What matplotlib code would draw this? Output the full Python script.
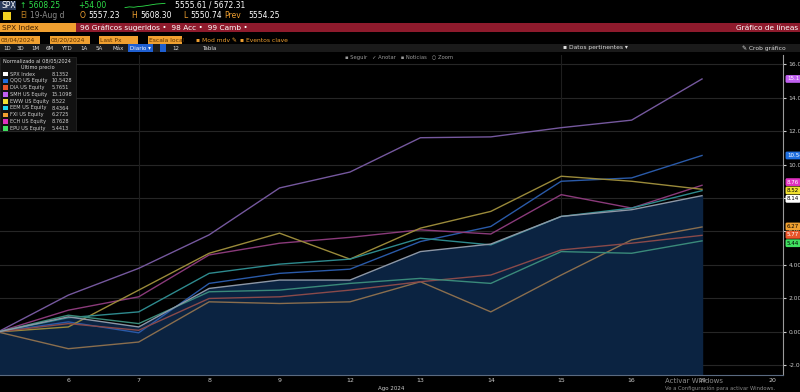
"""Bloomberg-style normalized line chart: SPX vs ETFs, Aug 2024."""

import numpy as np
import matplotlib
matplotlib.use('Agg')
import matplotlib.pyplot as plt
from matplotlib.patches import Rectangle

W, H = 800, 392

days = ['5', '6', '7', '8', '9', '12', '13', '14', '15', '16', '19']
tick_labels = ['6', '7', '8', '9', '12', '13', '14', '15', '16', '19', '20']

names = ['SPX Index', 'QQQ US Equity', 'DIA US Equity', 'SMH US Equity', 'EWW US Equity',
         'EEM US Equity', 'FXI US Equity', 'ECH US Equity', 'EPU US Equity']
last_px = ['8.1352', '10.5428', '5.7651', '15.1098', '8.522', '8.4364', '6.2725', '8.7628', '5.4413']

spx = [0, 0.9, 0.3, 2.6, 3.1, 3.1, 4.8, 5.25, 6.9, 7.3, 8.14]
qqq = [0, 0.6, -0.05, 2.9, 3.5, 3.75, 5.4, 6.3, 9.0, 9.2, 10.54]
dia = [0, 0.5, 0.1, 2.0, 2.1, 2.5, 3.0, 3.4, 4.9, 5.3, 5.77]
smh = [0, 2.2, 3.8, 5.8, 8.6, 9.55, 11.6, 11.65, 12.2, 12.65, 15.11]
eww = [0, 0.3, 2.5, 4.7, 5.9, 4.35, 6.2, 7.2, 9.3, 9.0, 8.52]
eem = [0, 0.85, 1.2, 3.5, 4.05, 4.35, 5.6, 5.2, 6.9, 7.4, 8.44]
fxi = [0, -1.0, -0.6, 1.8, 1.7, 1.8, 3.0, 1.2, 3.4, 5.5, 6.27]
ech = [0, 1.3, 2.1, 4.6, 5.3, 5.65, 6.1, 5.85, 8.2, 7.4, 8.76]
epu = [0, 1.0, 0.5, 2.4, 2.5, 2.9, 3.2, 2.9, 4.8, 4.7, 5.44]

series = [spx, qqq, dia, smh, eww, eem, fxi, ech, epu]
key_colors = ['#ffffff', '#1f6fe0', '#e8552a', '#c060f0', '#f0e030', '#20d8f0', '#f0a030', '#e030c0', '#40e060']
line_colors = ['#8d97a6', '#2a5aa8', '#8a4a4a', '#75589e', '#9a8a3a', '#2e8a8e', '#8a6e4e', '#8a3a7a', '#3a8a7a']


def fx(x):
    return x / W


def fy(y):
    return 1 - y / H


fig = plt.figure(figsize=(8, 3.92), dpi=100, facecolor='black')

# ---- plot area
ax = fig.add_axes([0, fy(375), fx(783), (375 - 55) / H])
ax.set_facecolor('black')
x = np.arange(len(days))
ax.set_xlim(0.03, 11.15)
ax.set_ylim(-2.57, 16.54)

for v in np.arange(-2, 17, 2):
    ax.axhline(v, color='#262626', lw=0.8, zorder=0)
for v in [2, 8]:
    ax.axvline(v, color='#1e1e1e', lw=0.8, zorder=0)

ax.fill_between(x, spx, -2.57, color='#0b2341', zorder=1)
order = [3, 1, 7, 4, 5, 6, 2, 8, 0]
for i in order:
    ax.plot(x, series[i], color=line_colors[i], lw=1.0, zorder=2)

ax.yaxis.tick_right()
ax.set_yticks(np.arange(-2, 17, 2))
ax.set_yticklabels([f'{v:.2f}' for v in np.arange(-2, 17, 2)])
ax.set_xticks(np.arange(1, 12))
ax.set_xticklabels(tick_labels)
ax.tick_params(axis='y', colors='#cccccc', labelsize=4.3, length=2, pad=2)
ax.tick_params(axis='x', colors='#cccccc', labelsize=4.5, length=0, pad=2)
for s in ['top', 'left']:
    ax.spines[s].set_visible(False)
ax.spines['right'].set_color('#9a9a9a')
ax.spines['bottom'].set_color('#5a6a80')
ax.text(0.5, -0.035, 'Ago 2024', transform=ax.transAxes, color='#cccccc', fontsize=4, ha='center', va='top')

# last-value boxes on the right axis
lbl_order = [3, 1, 7, 4, 0, 6, 2, 8]
lbl_y = {3: 15.11, 1: 10.54, 7: 8.95, 4: 8.45, 0: 7.95, 6: 6.3, 2: 5.8, 8: 5.3}
for i in lbl_order:
    tc = 'black' if i in (0, 4, 8, 6) else 'white'
    ax.text(1.005, (lbl_y[i] + 2.57) / (16.54 + 2.57), f'{series[i][-1]:.2f}', transform=ax.transAxes,
            fontsize=4.0, color=tc, ha='left', va='center', zorder=5, clip_on=False,
            bbox=dict(boxstyle='round,pad=0.25', fc=key_colors[i], ec='none'))

# ---- legend box
fig.patches.append(Rectangle((0, fy(131)), fx(76), (131 - 57) / H, transform=fig.transFigure,
                             fc='#121212', ec='#2a2a2a', lw=0.5))
fig.text(fx(3), fy(61), 'Normalizado al 08/05/2024', color='#dddddd', fontsize=3.6, va='center')
fig.text(fx(38), fy(67), 'Último precio', color='#dddddd', fontsize=3.6, va='center', ha='center')
for k, (n, v) in enumerate(zip(names, last_px)):
    yy = 74 + k * 6.8
    fig.patches.append(Rectangle((fx(3), fy(yy + 2.4)), fx(4.5), 4.6 / H, transform=fig.transFigure,
                                 fc=key_colors[k], ec='none'))
    fig.text(fx(10), fy(yy), n, color='#cfcfcf', fontsize=3.6, va='center')
    fig.text(fx(52), fy(yy), v, color='#cfcfcf', fontsize=3.6, va='center')

# ---- header rows
fig.patches.append(Rectangle((0, fy(10)), fx(16), 9 / H, transform=fig.transFigure, fc='#2a3a5a', ec='none'))
fig.text(fx(2), fy(5), 'SPX', color='white', fontsize=5.5, va='center')
fig.text(fx(20), fy(5), '↑ 5608.25', color='#2ee04a', fontsize=5.5, va='center')
fig.text(fx(78), fy(5), '+54.00', color='#2ee04a', fontsize=5.5, va='center')
spark = [2, 3, 2.5, 3.5, 4, 5, 6, 7, 7.5, 8]
sx = np.linspace(fx(125), fx(165), len(spark))
fig.add_artist(plt.Line2D(sx, [fy(9) + s * 0.0018 for s in spark], color='#2ee04a', lw=0.6, transform=fig.transFigure))
fig.text(fx(175), fy(5), '5555.61 / 5672.31', color='white', fontsize=5.5, va='center')

fig.patches.append(Rectangle((fx(3), fy(20)), fx(8), 8 / H, transform=fig.transFigure, fc='#f0d020', ec='none'))
fig.text(fx(20), fy(16), 'EI', color='#c08020', fontsize=5.5, va='center')
fig.text(fx(30), fy(16), '19-Aug d', color='#8a8a8a', fontsize=5.5, va='center')
fig.text(fx(80), fy(16), 'O', color='#f0a030', fontsize=5.5, va='center')
fig.text(fx(88), fy(16), '5557.23', color='white', fontsize=5.5, va='center')
fig.text(fx(131), fy(16), 'H', color='#f0a030', fontsize=5.5, va='center')
fig.text(fx(140), fy(16), '5608.30', color='white', fontsize=5.5, va='center')
fig.text(fx(183), fy(16), 'L', color='#f0a030', fontsize=5.5, va='center')
fig.text(fx(190), fy(16), '5550.74', color='white', fontsize=5.5, va='center')
fig.text(fx(224), fy(16), 'Prev', color='#f0a030', fontsize=5.5, va='center')
fig.text(fx(248), fy(16), '5554.25', color='white', fontsize=5.5, va='center')

fig.patches.append(Rectangle((0, fy(32)), 1, 9 / H, transform=fig.transFigure, fc='#8e1a2c', ec='none'))
fig.patches.append(Rectangle((0, fy(32)), fx(76), 9 / H, transform=fig.transFigure, fc='#f0a030', ec='none'))
fig.text(fx(2), fy(27.5), 'SPX Index', color='#402000', fontsize=5.3, va='center')
fig.text(fx(80), fy(27.5), '96 Gráficos sugeridos •  98 Acc •  99 Camb •', color='white', fontsize=5.3, va='center')
fig.text(fx(798), fy(27.5), 'Gráfico de líneas', color='white', fontsize=5.3, va='center', ha='right')

row4 = [(0, 40, '08/04/2024'), (50, 90, '08/20/2024'), (99, 138, 'Last Px'), (148, 182, 'Escala local')]
for x0, x1, t in row4:
    fig.patches.append(Rectangle((fx(x0), fy(44)), fx(x1 - x0), 8 / H, transform=fig.transFigure,
                                 fc='#f0a030', ec='none'))
    fig.text(fx(x0 + 1), fy(40), t, color='#5a3000', fontsize=4.3, va='center')
fig.text(fx(196), fy(40), '▪ Mod mdv ✎', color='#f0a030', fontsize=4.3, va='center')
fig.text(fx(240), fy(40), '▪ Eventos clave', color='#f0a030', fontsize=4.3, va='center')
fig.text(fx(628), fy(48), '▪ Datos pertinentes ▾', color='#dddddd', fontsize=4.3, va='center', ha='right')
fig.patches.append(Rectangle((fx(697), fy(51)), fx(40), 7 / H, transform=fig.transFigure, fc='#f0a030', ec='none'))
fig.text(fx(742), fy(48), '✎ Crob gráfico', color='#dddddd', fontsize=4.3, va='center')

fig.patches.append(Rectangle((0, fy(52)), 1, 8 / H, transform=fig.transFigure, fc='#1a1a1a', ec='none'))
periods = ['1D', '3D', '1M', '6M', 'YTD', '1A', '5A', 'Máx']
px = [3, 17, 31, 46, 61, 80, 96, 112]
for p, xx in zip(periods, px):
    fig.text(fx(xx), fy(48), p, color='#dddddd', fontsize=4.0, va='center')
fig.patches.append(Rectangle((fx(128), fy(51.5)), fx(25), 7 / H, transform=fig.transFigure, fc='#1f5fd0', ec='none'))
fig.text(fx(130), fy(48), 'Diario ▾', color='white', fontsize=4.0, va='center')
fig.patches.append(Rectangle((fx(160), fy(51.5)), fx(6), 7 / H, transform=fig.transFigure, fc='#1f5fd0', ec='none'))
fig.text(fx(172), fy(48), '12', color='#dddddd', fontsize=4.0, va='center')
fig.text(fx(202), fy(48), 'Tabla', color='#dddddd', fontsize=4.0, va='center')

fig.text(fx(345), fy(57), '▪ Seguir   ✓ Anotar   ▪ Noticias   ○ Zoom', color='#9a9a9a', fontsize=3.8, va='center')

# watermark
fig.text(fx(665), fy(381), 'Activar Windows', color='#8a8a8a', fontsize=5, va='center')
fig.text(fx(665), fy(388), 'Ve a Configuración para activar Windows.', color='#8a8a8a', fontsize=3.8, va='center')

fig.savefig('out.png', dpi=100, facecolor='black')
